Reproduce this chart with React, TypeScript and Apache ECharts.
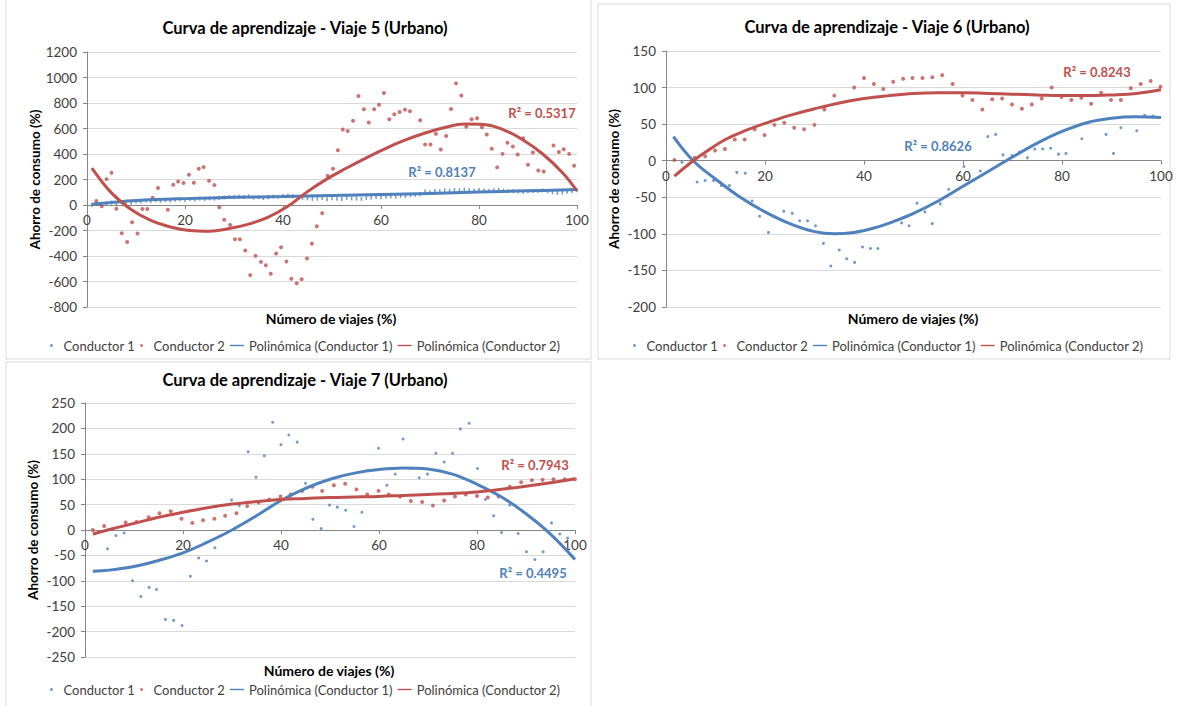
import { useEffect, useRef } from "react";
import * as echarts from "echarts";

const BLUE = "#4F81BD";
const RED = "#C0504D";
const FONT = "Lato, 'Open Sans', sans-serif";

const titles = [
  "Curva de aprendizaje - Viaje 5 (Urbano)",
  "Curva de aprendizaje - Viaje 6 (Urbano)",
  "Curva de aprendizaje - Viaje 7 (Urbano)",
];
const seriesNames = ["Conductor 1", "Conductor 2", "Polinómica (Conductor 1)", "Polinómica (Conductor 2)"];
const xAxisTitle = "Número de viajes (%)";
const yAxisTitle = "Ahorro de consumo (%)";
const r2Conductor1 = ["R² = 0.8137", "R² = 0.8626", "R² = 0.4495"];
const r2Conductor2 = ["R² = 0.5317", "R² = 0.8243", "R² = 0.7943"];
const yMins = [-800, -200, -250];
const yMaxs = [1200, 150, 250];
const ySteps = [200, 50, 50];

// Viaje 5
const v5Conductor1 = [
  [1, 0], [2, 10], [3, 5], [4, 15], [5, 20], [6, 12], [7, 22], [8, 25], [9, 18], [10, 30],
  [11, 28], [12, 35], [13, 30], [14, 38], [15, 33], [16, 40], [17, 36], [18, 42], [19, 45], [20, 40],
  [21, 48], [22, 44], [23, 50], [24, 47], [25, 52], [26, 49], [27, 55], [28, 58], [29, 62], [30, 60],
  [31, 65], [32, 63], [33, 68], [34, 58], [35, 62], [36, 55], [37, 60], [38, 66], [39, 64], [40, 70],
  [41, 72], [42, 68], [43, 62], [44, 56], [45, 52], [46, 48], [47, 50], [48, 54], [49, 46], [50, 52],
  [51, 50], [52, 48], [53, 55], [54, 52], [55, 50], [56, 48], [57, 56], [58, 58], [59, 62], [60, 60],
  [61, 64], [62, 68], [63, 66], [64, 72], [65, 70], [66, 76], [67, 80], [68, 84], [69, 105], [70, 100],
  [71, 110], [72, 108], [73, 115], [74, 112], [75, 118], [76, 115], [77, 120], [78, 116], [79, 112], [80, 118],
  [81, 114], [82, 110], [83, 116], [84, 120], [85, 112], [86, 108], [87, 110], [88, 106], [89, 104], [90, 108],
  [91, 110], [92, 112], [93, 115], [94, 108], [95, 100], [96, 95], [97, 98], [98, 104], [99, 110], [100, 115],
];
const v5Conductor2 = [
  [1.9, 31], [3, -10], [4, 203], [5, 253], [6, -29], [7.1, -222], [8.2, -290], [9.2, -136], [10.3, -224], [11.3, -31],
  [12.3, -31], [13.4, 57], [14.5, 133], [16.5, -37], [17.6, 159], [18.6, 185], [19.7, 172], [20.8, 237], [21.8, 175], [22.8, 284],
  [23.8, 297], [24.9, 190], [26, 156], [27, -18], [28, -115], [29.2, -156], [30.2, -269], [31.2, -269], [32.3, -357], [33.3, -550],
  [34.4, -399], [35.5, -446], [36.5, -472], [37.5, -540], [38.6, -381], [39.6, -331], [40.7, -443], [41.7, -579], [42.8, -613], [43.8, -582],
  [44.9, -420], [45.9, -303], [46.9, -167], [48, -65], [49.1, 229], [50.2, 284], [51.2, 430], [52.2, 592], [53.2, 581], [54.3, 660],
  [55.4, 855], [56.5, 751], [57.5, 647], [58.6, 751], [59.6, 787], [60.6, 879], [61.7, 673], [62.7, 712], [63.8, 730], [64.9, 748],
  [65.9, 735], [68, 665], [69, 474], [70.1, 474], [71.2, 558], [72.2, 435], [73.3, 542], [74.3, 753], [75.3, 954], [76.4, 858],
  [77.4, 613], [78.5, 673], [79.6, 680], [80.6, 610], [81.6, 553], [82.6, 441], [83.7, 295], [84.8, 401], [85.8, 488], [86.9, 459],
  [87.9, 396], [89, 524], [90, 315], [91, 412], [92.1, 271], [93.2, 263], [95.2, 467], [96.3, 415], [97.3, 438], [98.4, 401], [99.4, 308],
];
const v5Poly1 = [[1, 5], [5, 20], [10, 35], [20, 50], [30, 60], [40, 66], [50, 74], [60, 82], [70, 91], [80, 101], [90, 111], [100, 121]];
const v5Poly2 = [
  [1, 290], [5, 95], [9, -35], [13, -120], [17, -172], [21, -200], [25, -206], [29, -185], [33, -150], [37, -95],
  [41, -10], [45, 105], [49, 205], [53, 290], [57, 370], [61, 445], [65, 510], [69, 565], [73, 608], [77, 635],
  [81, 632], [85, 590], [89, 510], [93, 400], [97, 255], [100, 110],
];

// Viaje 6
const v6Conductor1 = [
  [3.2, -2], [6.3, -29], [7.9, -27], [9.6, -27], [11.2, -34], [12.8, -34], [14.3, -16], [16, -17], [17.4, -55], [18.9, -76],
  [20.7, -98], [23.8, -69], [25.5, -72], [27, -82], [28.6, -82], [30.2, -89], [31.8, -113], [33.3, -144], [35, -122], [36.5, -134],
  [38.1, -139], [39.7, -118], [41.3, -120], [42.8, -120], [47.6, -85], [49.1, -89], [50.7, -58], [52.3, -70], [53.8, -86], [55.4, -59],
  [57.1, -39], [60.2, -8], [63.5, -14], [65, 33], [66.6, 36], [68.1, 8], [69.9, 7], [71.4, 12], [73, 4], [74.5, 16],
  [76.1, 16], [77.7, 17], [79.3, 9], [80.8, 10], [82.5, 46], [84, 30], [85.6, 53], [88.9, 36], [90.4, 10], [91.9, 45],
  [95.1, 41], [96.7, 62], [98.4, 61],
];
const v6Conductor2 = [
  [1.7, 1], [5.8, 4], [7.9, 6], [9.9, 14], [11.9, 16], [13.9, 29], [15.9, 29], [17.9, 43], [19.9, 35], [21.9, 49],
  [23.9, 52], [25.9, 45], [27.9, 43], [30, 49], [32, 70], [34, 89], [38, 100], [40, 113], [42, 105], [43.9, 98],
  [45.9, 108], [47.9, 112], [49.8, 113], [51.8, 113], [53.8, 114], [55.8, 117], [57.9, 105], [59.9, 89], [61.9, 83], [63.9, 70],
  [65.9, 84], [67.9, 85], [69.9, 77], [71.9, 71], [73.9, 77], [75.9, 85], [77.9, 100], [79.9, 87], [81.9, 83], [83.9, 86],
  [85.9, 78], [87.9, 93], [89.9, 83], [91.9, 83], [93.9, 99], [95.9, 105], [97.9, 109], [99.9, 101],
];
const v6Poly1 = [
  [1.5, 33], [5.5, 0], [10, -25], [15, -50], [20, -70], [25, -86], [30, -97], [34, -100], [38, -98], [42, -92],
  [46, -83], [50, -72], [55, -55], [60, -35], [65, -15], [70, 5], [75, 24], [80, 40], [85, 52], [90, 58], [95, 60], [100, 59],
];
const v6Poly2 = [
  [1.7, -21], [5.5, 0], [8, 12], [12, 29], [16, 41], [20, 51], [25, 62], [30, 71], [35, 79], [40, 85],
  [45, 89], [50, 92], [55, 93], [60, 93], [65, 92], [70, 91], [75, 90], [80, 89], [85, 89], [90, 90], [95, 92], [100, 97],
];

// Viaje 7
const v7Conductor1 = [
  [4.6, -37], [6.3, -11], [8, -6], [9.7, -100], [11.4, -131], [13.1, -113], [14.6, -117], [16.4, -176], [18.1, -178], [19.8, -188],
  [21.5, -91], [23.2, -55], [24.8, -61], [26.5, -35], [29.9, 59], [31.5, 48], [33.3, 154], [34.9, 104], [36.6, 146], [38.3, 212],
  [40, 168], [41.6, 187], [43.3, 173], [45, 92], [46.5, 21], [48.2, 3], [49.9, 49], [51.5, 45], [53.2, 39], [54.9, 7],
  [56.5, 35], [59.9, 161], [61.6, 88], [63.3, 110], [64.9, 179], [66.5, 121], [68.2, 103], [69.9, 110], [71.6, 151], [73.3, 134],
  [75, 151], [76.6, 199], [78.4, 210], [80.1, 121], [81.7, 60], [83.4, 28], [85, -5], [86.7, 49], [88.4, -7], [90.1, -43],
  [91.8, -58], [93.5, -43], [95.2, 14], [96.9, -8], [98.5, -16],
];
const v7Conductor2 = [
  [1.6, 0], [3.9, 8], [8.3, 15], [10.5, 16], [13, 25], [15.2, 33], [17.5, 37], [19.7, 22], [21.9, 14], [24.1, 19],
  [26.4, 22], [28.6, 28], [30.9, 33], [33.1, 47], [35.4, 54], [37.6, 60], [39.9, 66], [42, 70], [44.3, 77], [46.4, 85],
  [48.4, 77], [50.8, 88], [53.1, 91], [55.4, 80], [57.6, 70], [59.9, 77], [62, 70], [64.3, 66], [66.5, 57], [68.8, 55],
  [71, 48], [73.3, 58], [75.5, 66], [77.7, 70], [80, 67], [82.2, 64], [84.4, 66], [86.7, 85], [89, 94], [91.2, 98],
  [93.4, 99], [95.6, 100], [97.9, 100], [100, 100],
];
const v7Poly1 = [
  [1.6, -81], [5, -79], [10, -72], [15, -60], [20, -45], [25, -24], [30, 0], [35, 28], [40, 58], [45, 82],
  [50, 100], [55, 112], [60, 119], [65, 122], [70, 120], [75, 110], [80, 90], [85, 65], [90, 32], [95, -8], [100, -58],
];
const v7Poly2 = [
  [1.6, -8], [5, 1], [10, 13], [15, 25], [20, 35], [25, 44], [30, 51], [35, 56], [40, 60], [45, 62],
  [50, 64], [55, 65], [60, 66], [65, 68], [70, 70], [75, 72], [80, 75], [85, 80], [90, 86], [95, 93], [100, 101],
];

const conductor1Sets = [v5Conductor1, v6Conductor1, v7Conductor1];
const conductor2Sets = [v5Conductor2, v6Conductor2, v7Conductor2];
const poly1Sets = [v5Poly1, v6Poly1, v7Poly1];
const poly2Sets = [v5Poly2, v6Poly2, v7Poly2];

// layout (pixels)
const frames = [
  { grid: { left: 87, top: 52, width: 490, height: 255 }, title: [305, 19], xName: [331, 318], legend: [50, 339], r1: [442, 172], r2: [542, 113], box: [6, -2, 585, 361] },
  { grid: { left: 666, top: 51, width: 495, height: 256 }, title: [887, 18], xName: [913, 318], legend: [633, 339], r1: [938, 146], r2: [1097, 72], box: [598, 4, 572, 355] },
  { grid: { left: 85, top: 403, width: 490, height: 254 }, title: [305, 371], xName: [329, 670], legend: [50, 683], r1: [533, 573], r2: [535, 465], box: [6, 362, 585, 346] },
];
const blueSymbol: any[] = [["rect", [1.5, 4]], ["circle", 3], ["circle", 3]];

function buildOption() {
  const lineIcon = "path://M0,0H20V2H0Z";
  const graphic: any[] = [];
  frames.forEach((f, i) => {
    graphic.push({
      type: "rect", shape: { x: f.box[0], y: f.box[1], width: f.box[2], height: f.box[3] },
      style: { fill: "none", stroke: "#D9D9D9", lineWidth: 1 }, silent: true, z: -1,
    });
    graphic.push({
      type: "text", x: f.xName[0], y: f.xName[1],
      style: { text: xAxisTitle, fill: "#000", font: `bold 14px ${FONT}`, textAlign: "center", textVerticalAlign: "middle" },
    });
    graphic.push({
      type: "text", x: f.r1[0], y: f.r1[1], z: 10,
      style: { text: r2Conductor1[i], fill: BLUE, font: `bold 13px ${FONT}`, textAlign: "center", textVerticalAlign: "middle" },
    });
    graphic.push({
      type: "text", x: f.r2[0], y: f.r2[1], z: 10,
      style: { text: r2Conductor2[i], fill: RED, font: `bold 13px ${FONT}`, textAlign: "center", textVerticalAlign: "middle" },
    });
  });

  const series: any[] = [];
  for (let i = 0; i < 3; i++) {
    series.push({
      type: "scatter", name: seriesNames[0], xAxisIndex: i, yAxisIndex: i, data: conductor1Sets[i],
      symbol: blueSymbol[i][0], symbolSize: blueSymbol[i][1], itemStyle: { color: BLUE }, z: 2,
    });
    series.push({
      type: "scatter", name: seriesNames[1], xAxisIndex: i, yAxisIndex: i, data: conductor2Sets[i],
      symbol: "circle", symbolSize: 4, itemStyle: { color: RED }, z: 2,
    });
    series.push({
      type: "line", name: seriesNames[2], xAxisIndex: i, yAxisIndex: i, data: poly1Sets[i],
      smooth: 0.4, showSymbol: false, symbol: "none", lineStyle: { color: BLUE, width: 3 }, itemStyle: { color: BLUE }, z: 3,
    });
    series.push({
      type: "line", name: seriesNames[3], xAxisIndex: i, yAxisIndex: i, data: poly2Sets[i],
      smooth: 0.4, showSymbol: false, symbol: "none", lineStyle: { color: RED, width: 3 }, itemStyle: { color: RED }, z: 4,
    });
  }

  return {
    animation: false,
    backgroundColor: "#fff",
    textStyle: { fontFamily: FONT },
    title: frames.map((f, i) => ({
      text: titles[i], left: f.title[0], top: f.title[1], textAlign: "center", padding: 0,
      textStyle: { fontFamily: FONT, fontSize: 16.5, fontWeight: "bold", color: "#000" },
    })),
    legend: frames.map((f) => ({
      left: f.legend[0], top: f.legend[1], itemWidth: 14, itemHeight: 3, itemGap: 5, padding: 0,
      textStyle: { fontFamily: FONT, fontSize: 13, color: "#404040" },
      data: [
        { name: seriesNames[0], icon: "circle" },
        { name: seriesNames[1], icon: "circle" },
        { name: seriesNames[2], icon: lineIcon },
        { name: seriesNames[3], icon: lineIcon },
      ],
    })),
    grid: frames.map((f) => ({ ...f.grid, containLabel: false })),
    xAxis: frames.map((f, i) => ({
      type: "value", gridIndex: i, min: 0, max: 100, interval: 20,
      position: "bottom",
      // place the axis at y = 0 of the value axis
      offset: -(-yMins[i] / (yMaxs[i] - yMins[i])) * f.grid.height,
      axisLine: { show: true, onZero: false, lineStyle: { color: "#868686", width: 1 } },
      axisTick: { show: true, length: 4, lineStyle: { color: "#868686" } },
      axisLabel: { color: "#404040", fontSize: 13.5, fontFamily: FONT, margin: 8 },
      splitLine: { show: false },
    })),
    yAxis: frames.map((_, i) => ({
      type: "value", gridIndex: i, min: yMins[i], max: yMaxs[i], interval: ySteps[i],
      name: yAxisTitle, nameLocation: "middle", nameGap: 45, nameRotate: 90,
      nameTextStyle: { fontFamily: FONT, fontSize: 13.5, fontWeight: "bold", color: "#000" },
      axisLine: { show: true, onZero: false, lineStyle: { color: "#868686", width: 1 } },
      axisTick: { show: true, length: 4, lineStyle: { color: "#868686" } },
      axisLabel: { color: "#404040", fontSize: 13.5, fontFamily: FONT, margin: 10, formatter: (v: number) => String(v) },
      splitLine: { show: true, lineStyle: { color: "#D9D9D9", width: 1 } },
    })),
    graphic,
    series,
  };
}

export default function App() {
  const ref = useRef<HTMLDivElement>(null);
  useEffect(() => {
    if (!ref.current) return;
    const chart = echarts.init(ref.current, null, { renderer: "svg" });
    chart.setOption(buildOption() as any);
    return () => chart.dispose();
  }, []);
  return (
    <div
      ref={ref}
      style={{ position: "fixed", left: 0, top: 0, width: 1178, height: 706, background: "#fff" }}
    />
  );
}
